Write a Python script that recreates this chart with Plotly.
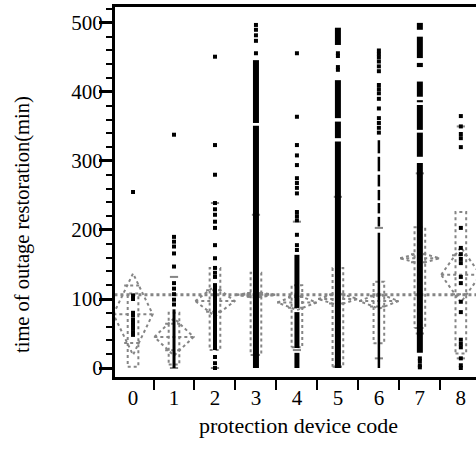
import plotly.graph_objects as go

# ---------------- data ----------------
categories = [0, 1, 2, 3, 4, 5, 6, 7, 8]
tick_labels = ["0", "1", "2", "3", "4", "5", "6", "7", "8"]

# isolated observations (minutes)
points_0 = [255, 105, 100, 80, 76, 70, 66, 62, 57, 52, 48]
points_1 = [338, 190, 183, 176, 166, 147, 123, 115, 107, 99, 92]
points_2 = [451, 323, 280, 239, 230, 222, 212, 203, 178, 159, 145, 138, 132, 16, 7, 0]
points_3 = [497, 490, 482, 474, 456]
points_4 = [456, 364, 323, 308, 294, 275, 268, 261, 253, 226, 220, 214, 193, 178, 171]
points_5 = [456, 452, 436, 432]
points_6 = [460, 455, 450, 444, 437, 430, 410, 404, 398, 390, 376, 362, 355, 348, 341]
points_7 = [14, 10, 4, 1]
points_8 = [365, 350, 339, 333, 320, 203, 174, 165, 158, 152, 132, 123, 96, 81, 41, 35, 30, 14, 4, 0]

# runs of observations so dense they merge into solid bars (low, high)
runs_0 = []
runs_1 = [(0, 85)]
runs_2 = [(26, 123)]
runs_3 = [(355, 446), (0, 351)]
runs_4 = [(87, 164), (29, 81), (0, 22)]
runs_5 = [(468, 493), (362, 417), (333, 357), (0, 328)]
runs_6 = [(311, 330), (285, 306), (263, 280), (243, 258), (224, 239), (205, 219), (0, 196)]
runs_7 = [(490, 500), (449, 480), (436, 442), (393, 415), (385, 388), (345, 381), (306, 341), (22, 297)]
runs_8 = []

group_means = [78, 45, 97, 106, 95, 100, 97, 159, 135]
ci_half = [59, 27, 22, 4, 11, 9, 11, 8, 40]
q1 = [2, 5, 26, 19, 30, 2, 36, 58, 21]
q3 = [108, 80, 145, 138, 120, 145, 125, 204, 226]
p10 = [None, 0, 0, 19, 26, 2, 14, 50, 14]
p90 = [None, 132, 239, 222, 212, 248, 203, 282, 350]
grand_mean = 106

# ---------------- styling ----------------
run_width = [3, 3, 4, 6, 5, 6, 2.5, 6, 3]
DIAMOND_HALF = 0.48
BOX_HALF = 0.13
GRAY = "#858585"
SERIF = "Liberation Serif"

all_points = [points_0, points_1, points_2, points_3, points_4, points_5, points_6, points_7, points_8]
all_runs = [runs_0, runs_1, runs_2, runs_3, runs_4, runs_5, runs_6, runs_7, runs_8]

fig = go.Figure()

# quantile boxes
bx, by = [], []
for c, lo, hi in zip(categories, q1, q3):
    bx += [c - BOX_HALF, c + BOX_HALF, c + BOX_HALF, c - BOX_HALF, c - BOX_HALF, None]
    by += [lo, lo, hi, hi, lo, None]
fig.add_trace(go.Scatter(x=bx, y=by, mode="lines", line=dict(color=GRAY, width=2, dash="dot"), hoverinfo="skip"))

# 10 / 90 percentile marks
px, py = [], []
for c, a, b in zip(categories, p10, p90):
    for v in (a, b):
        if v is not None:
            px += [c - 0.1, c + 0.1, None]
            py += [v, v, None]
fig.add_trace(go.Scatter(x=px, y=py, mode="lines", line=dict(color=GRAY, width=2), hoverinfo="skip"))

# grand mean line
fig.add_trace(go.Scatter(x=[-0.6, 8.6], y=[grand_mean, grand_mean], mode="lines",
                         line=dict(color=GRAY, width=3, dash="dot"), hoverinfo="skip"))

# mean diamonds with mean line and overlap marks
dx, dy = [], []
for c, m, h in zip(categories, group_means, ci_half):
    dx += [c - DIAMOND_HALF, c, c + DIAMOND_HALF, c, c - DIAMOND_HALF, None]
    dy += [m, m + h, m, m - h, m, None]
    dx += [c - DIAMOND_HALF, c + DIAMOND_HALF, None]
    dy += [m, m, None]
    o = h * 0.7071
    w = DIAMOND_HALF * 0.45
    dx += [c - w, c + w, None, c - w, c + w, None]
    dy += [m + o, m + o, None, m - o, m - o, None]
fig.add_trace(go.Scatter(x=dx, y=dy, mode="lines", line=dict(color=GRAY, width=2, dash="dot"), hoverinfo="skip"))

# dense runs of observations
for c, runs, w in zip(categories, all_runs, run_width):
    if not runs:
        continue
    rx, ry = [], []
    for lo, hi in runs:
        rx += [c, c, None]
        ry += [lo, hi, None]
    fig.add_trace(go.Scatter(x=rx, y=ry, mode="lines", line=dict(color="black", width=w), hoverinfo="skip"))

# individual observations
sx, sy = [], []
for c, pts in zip(categories, all_points):
    sx += [c] * len(pts)
    sy += pts
fig.add_trace(go.Scatter(x=sx, y=sy, mode="markers",
                         marker=dict(symbol="square", size=4, color="black", line=dict(width=0)),
                         hoverinfo="skip"))

W, H = 476, 452
L, R, T, B = 115, 0, 7, 75
fig.update_layout(
    width=W, height=H,
    margin=dict(l=L, r=R, t=T, b=B),
    plot_bgcolor="white", paper_bgcolor="white",
    showlegend=False,
    font=dict(family=SERIF, size=20, color="black"),
)
fig.update_xaxes(
    range=[-0.44, 8.37],
    tickmode="array", tickvals=categories, ticktext=tick_labels,
    ticks="", showgrid=False, zeroline=False,
    showline=True, linewidth=3, linecolor="black", mirror=True,
    minor=dict(tickmode="array", tickvals=[c + 0.5 for c in categories[:-1]],
               ticks="outside", ticklen=10, tickwidth=2, tickcolor="black"),
    tickfont=dict(size=21, family=SERIF, color="black"),
)
fig.update_yaxes(
    range=[-13, 523],
    tickmode="array", tickvals=[0, 100, 200, 300, 400, 500],
    ticks="outside", ticklen=13, tickwidth=3, tickcolor="black",
    minor=dict(tickmode="linear", tick0=0, dtick=20, ticks="outside", ticklen=6, tickwidth=2, tickcolor="black"),
    showgrid=False, zeroline=False,
    showline=True, linewidth=3, linecolor="black",
    tickfont=dict(size=21, family=SERIF, color="black"),
    ticklabelstandoff=-8,
)

pw = W - L - R
ph = H - T - B
fig.add_annotation(text="time of outage restoration(min)", textangle=-90,
                   xref="paper", yref="paper", x=(22 - L) / pw, y=(H - B - 225) / ph,
                   xanchor="center", yanchor="middle", showarrow=False,
                   font=dict(size=20.5, family=SERIF, color="black"))
fig.add_annotation(text="protection device code",
                   xref="paper", yref="paper", x=(298 - L) / pw, y=(H - B - 425) / ph,
                   xanchor="center", yanchor="middle", showarrow=False,
                   font=dict(size=22, family=SERIF, color="black"))

fig.write_html("out.html")
